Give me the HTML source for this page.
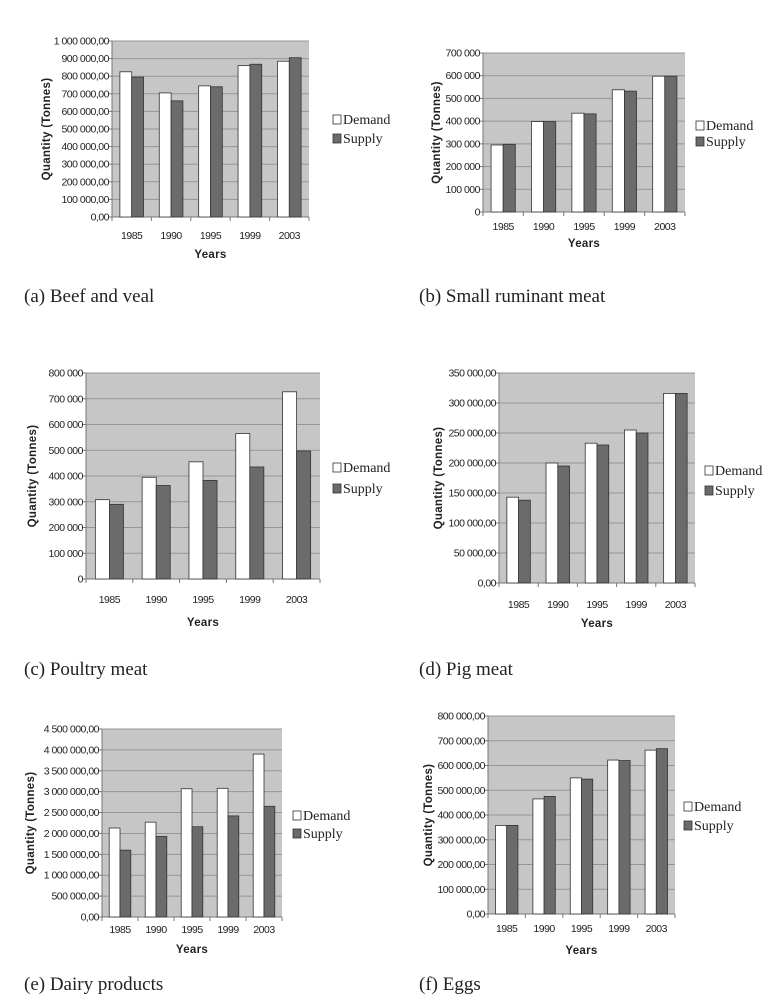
<!DOCTYPE html>
<html><head><meta charset="utf-8">
<style>
html,body{margin:0;padding:0;background:#fff;}
svg{display:block;}
.tick{font-family:"Liberation Sans",sans-serif;font-size:10.5px;fill:#222;letter-spacing:-0.5px;}
.axt{font-family:"Liberation Sans",sans-serif;font-size:11.5px;font-weight:bold;fill:#222;letter-spacing:0.3px;}
.leg{font-family:"Liberation Serif",serif;font-size:14px;fill:#222;}
.cap{font-family:"Liberation Serif",serif;font-size:19px;fill:#222;}
</style></head>
<body>
<svg id="root" width="770" height="1005" viewBox="0 0 770 1005" xmlns="http://www.w3.org/2000/svg"></svg>
<script>
const years = ["1985","1990","1995","1999","2003"];
const beefDemand = [825000,705000,745000,860000,885000];
const beefSupply = [795000,660000,740000,868000,905000];
const beefTicks = ["0,00","100 000,00","200 000,00","300 000,00","400 000,00","500 000,00","600 000,00","700 000,00","800 000,00","900 000,00","1 000 000,00"];
const smallDemand = [295000,398000,435000,538000,598000];
const smallSupply = [298000,398000,432000,532000,598000];
const smallTicks = ["0","100 000","200 000","300 000","400 000","500 000","600 000","700 000"];
const poultryDemand = [308000,395000,455000,565000,727000];
const poultrySupply = [290000,363000,383000,435000,497000];
const poultryTicks = ["0","100 000","200 000","300 000","400 000","500 000","600 000","700 000","800 000"];
const pigDemand = [143000,200000,233000,255000,316000];
const pigSupply = [138000,195000,230000,250000,316000];
const pigTicks = ["0,00","50 000,00","100 000,00","150 000,00","200 000,00","250 000,00","300 000,00","350 000,00"];
const dairyDemand = [2130000,2270000,3070000,3080000,3900000];
const dairySupply = [1600000,1930000,2160000,2420000,2650000];
const dairyTicks = ["0,00","500 000,00","1 000 000,00","1 500 000,00","2 000 000,00","2 500 000,00","3 000 000,00","3 500 000,00","4 000 000,00","4 500 000,00"];
const eggsDemand = [358000,465000,550000,622000,662000];
const eggsSupply = [358000,475000,545000,620000,668000];
const eggsTicks = ["0,00","100 000,00","200 000,00","300 000,00","400 000,00","500 000,00","600 000,00","700 000,00","800 000,00"];

const NS="http://www.w3.org/2000/svg";
const root=document.getElementById('root');
function mk(tag,attrs,parent){const e=document.createElementNS(NS,tag);for(const k in attrs)e.setAttribute(k,attrs[k]);(parent||root).appendChild(e);return e;}

function chart(id,c,demand,supply,ticks,step){
  const g=mk('g',{});
  
  
  const W=c.R-c.L,H=c.B-c.T,max=step*(ticks.length-1);
  const y=v=>c.B-v/max*H;
  const x=i=>c.L+W/5*i;
  const bg=mk('rect',{x:c.L,y:c.T,width:W,height:H,fill:'#c6c6c6'},g);
  
  
  ticks.forEach((t,i)=>{
    const yy=y(i*step);
    if(i>0){const gl=mk('line',{x1:c.L,x2:c.R,y1:yy,y2:yy,stroke:'#959595','stroke-width':1},g);
      
      }
    mk('line',{x1:c.L-3,x2:c.L,y1:yy,y2:yy,stroke:'#777'},g);
    const tx=mk('text',{x:c.L-3,y:yy+3.5,'text-anchor':'end',class:'tick'},g);
    tx.textContent=t;
    
    
  });
  mk('line',{x1:c.L,x2:c.L,y1:c.T,y2:c.B,stroke:'#777'},g);
  mk('line',{x1:c.L,x2:c.R,y1:c.B,y2:c.B,stroke:'#777'},g);
  const cw=W/5,bw=cw*0.3;
  years.forEach((yr,i)=>{
    mk('line',{x1:x(i),x2:x(i),y1:c.B,y2:c.B+4,stroke:'#777'},g);
    const d=mk('rect',{x:x(i)+cw*0.2,y:y(demand[i]),width:bw,height:c.B-y(demand[i]),fill:'#fff',stroke:'#333','stroke-width':0.8},g);
    
    
    const s=mk('rect',{x:x(i)+cw*0.2+bw,y:y(supply[i]),width:bw,height:c.B-y(supply[i]),fill:'#6b6b6b',stroke:'#333','stroke-width':0.8},g);
    
    
    const tl=mk('text',{x:x(i)+cw/2,y:c.catY,'text-anchor':'middle',class:'tick'},g);
    tl.textContent=yr;
    
    
  });
  mk('line',{x1:c.R,x2:c.R,y1:c.B,y2:c.B+4,stroke:'#777'},g);
  const xt=mk('text',{x:(c.L+c.R)/2,y:c.yrY,'text-anchor':'middle',class:'axt'},g);
  xt.textContent='Years';
  
  
  const cy=(c.T+c.B)/2;
  const yt=mk('text',{x:c.ytX,y:cy,'text-anchor':'middle',class:'axt',transform:'rotate(-90 '+c.ytX+' '+cy+')'},g);
  yt.textContent='Quantity (Tonnes)';
  
  
  [['Demand','#fff',c.lgY1],['Supply','#6b6b6b',c.lgY2]].forEach(([n,f,ly])=>{
    const sw=mk('rect',{x:c.lgX,y:ly-9,width:8,height:9,fill:f,stroke:'#333','stroke-width':0.8},g);
    
    
    const lt=mk('text',{x:c.lgX+10,y:ly,class:'leg'},g);
    lt.textContent=n;
    
    
  });
  const cp=mk('text',{x:c.capX,y:c.capY,class:'cap'},g);
  cp.textContent=c.cap;
  
  
}
chart('beef',{L:112,R:309,T:41,B:217,catY:239,yrY:258,ytX:50,lgX:333,lgY1:124,lgY2:143,capX:24,capY:302,cap:'(a) Beef and veal'},beefDemand,beefSupply,beefTicks,100000);
chart('small-ruminant',{L:483,R:685,T:53,B:212,catY:230,yrY:247,ytX:440,lgX:696,lgY1:130,lgY2:146,capX:419,capY:302,cap:'(b) Small ruminant meat'},smallDemand,smallSupply,smallTicks,100000);
chart('poultry',{L:86,R:320,T:373,B:579,catY:603,yrY:626,ytX:36,lgX:333,lgY1:472,lgY2:493,capX:24,capY:675,cap:'(c) Poultry meat'},poultryDemand,poultrySupply,poultryTicks,100000);
chart('pig',{L:499,R:695,T:373,B:583,catY:608,yrY:627,ytX:442,lgX:705,lgY1:475,lgY2:495,capX:419,capY:675,cap:'(d) Pig meat'},pigDemand,pigSupply,pigTicks,50000);
chart('dairy',{L:102,R:282,T:729,B:917,catY:933,yrY:953,ytX:34,lgX:293,lgY1:820,lgY2:838,capX:24,capY:990,cap:'(e) Dairy products'},dairyDemand,dairySupply,dairyTicks,500000);
chart('eggs',{L:488,R:675,T:716,B:914,catY:932,yrY:954,ytX:432,lgX:684,lgY1:811,lgY2:830,capX:419,capY:990,cap:'(f) Eggs'},eggsDemand,eggsSupply,eggsTicks,100000);
</script>
</body></html>
